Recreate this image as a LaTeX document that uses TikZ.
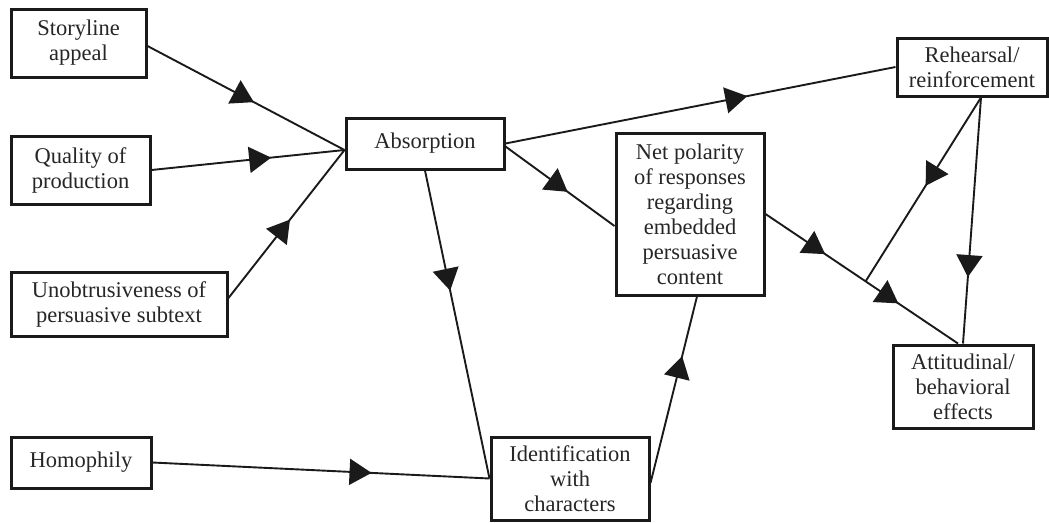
\documentclass[tikz,border=0pt]{standalone}
\usepackage{fontspec}
\setmainfont{Liberation Serif}
\usetikzlibrary{arrows.meta,decorations.markings,calc}
\definecolor{boxline}{HTML}{1A1A1A}
\definecolor{txt}{HTML}{262626}
\begin{document}
\begin{tikzpicture}[x=1pt,y=-1pt,
  box/.style={draw=boxline, line width=3pt, align=center, inner sep=0pt,
    font=\fontsize{22.5}{25}\selectfont, text=txt},
  link/.style={draw=boxline, line width=1.9pt},
  headat/.style={postaction={decorate}, decoration={markings,
    mark=at position #1 with {\arrow{Triangle[length=22pt,width=26pt]}}}},
  headtwo/.style 2 args={postaction={decorate}, decoration={markings,
    mark=at position #1 with {\arrow{Triangle[length=22pt,width=26pt]}},
    mark=at position #2 with {\arrow{Triangle[length=22pt,width=26pt]}}}}
]
\useasboundingbox (0,0) rectangle (1049,522);

% boxes
\node[box, minimum width=135pt, minimum height=68pt] (story) at (78.5,43) {Storyline\\appeal};
\node[box, minimum width=139pt, minimum height=68pt] (quality) at (80.5,170) {Quality of\\production};
\node[box, minimum width=216pt, minimum height=64pt] (unob) at (119,304) {Unobtrusiveness of\\persuasive subtext};
\node[box, minimum width=140pt, minimum height=51pt] (homo) at (81,462.5) {Homophily};
\node[box, minimum width=158pt, minimum height=51pt] (absorp) at (425,143.5) {Absorption};
\node[box, minimum width=148pt, minimum height=162pt] (net) at (690,214) {Net polarity\\of responses\\regarding\\embedded\\persuasive\\content};
\node[box, minimum width=150pt, minimum height=58pt] (rehe) at (972,67) {Rehearsal/\\reinforcement};
\node[box, minimum width=140pt, minimum height=83pt] (att) at (963,386.5) {Attitudinal/\\behavioral\\effects};
\node[box, minimum width=158pt, minimum height=83pt] (ident) at (570,478.5) {Identification\\with\\characters};

% meeting points on box edges
\coordinate (absin) at ([yshift=-6.5pt]absorp.west);
\coordinate (attin) at ([xshift=-5pt]att.north);
\coordinate (rehout) at ([xshift=9pt]rehe.south);
\coordinate (join) at ($(net.east)!0.52!(attin)$);

% connectors
\path[link, headat=0.54] ([yshift=-3pt]story.east) -- (absin);
\path[link, headat=0.62] (quality.east) -- (absin);
\path[link, headat=0.53] ([yshift=6pt]unob.east) -- (absin);
\path[link, headat=0.62] (absorp.east) -- (rehe.west);
\path[link, headat=0.57] ([yshift=-3pt]absorp.east) -- ([yshift=-12pt]net.west);
\path[link, headat=0.39] (absorp.south) -- (ident.west);
\path[link, headat=0.65] (homo.east) -- (ident.west);
\path[link, headat=0.68] ([yshift=-4.5pt]ident.east) -- ([xshift=7pt]net.south);
\path[link, headtwo={0.31}{0.69}] (net.east) -- (attin);
\path[link, headat=0.48] (rehout) -- (join);
\path[link, headat=0.73] (rehout) -- (att.north);
\end{tikzpicture}
\end{document}
